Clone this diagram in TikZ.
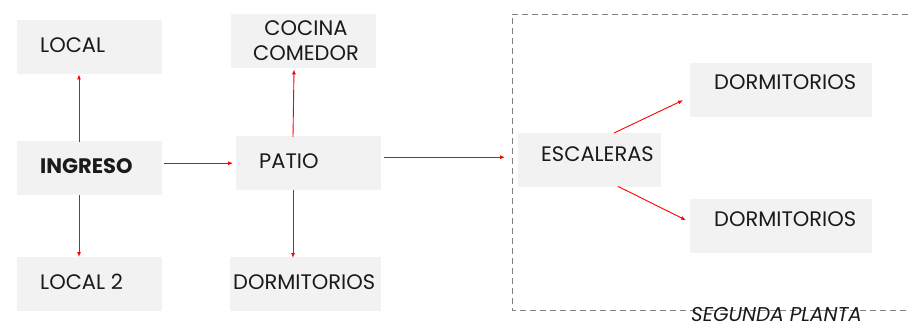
\documentclass[tikz,border=0pt]{standalone}
\usepackage{fontspec}
\setmainfont{Poppins}
\usetikzlibrary{arrows.meta,calc}
\definecolor{boxgray}{HTML}{F2F2F2}
\definecolor{txtcol}{HTML}{1A1A1A}
\definecolor{dashgray}{HTML}{808080}
\begin{document}
\begin{tikzpicture}[x=1pt,y=-1pt,
  box/.style={fill=boxgray, draw=none, minimum width=145pt, minimum height=54pt, inner sep=0pt, anchor=north west},
  txt/.style={anchor=west, inner sep=0pt, font=\fontsize{21}{25}\selectfont, text=txtcol},
  conn/.style={draw=red, line width=0.9pt, -{Latex[length=5pt,width=4pt]}}]
\useasboundingbox (0,0) rectangle (908,329);
% dashed frame (right side runs off the picture)
\coordinate (fA) at (908,14);
\coordinate (fB) at (512,14);
\coordinate (fC) at (512,310);
\coordinate (fD) at (908,310);
\draw[dashgray, line width=0.7pt, dash pattern=on 6pt off 4pt] (fA) -- (fB) -- (fC) -- (fD);
% boxes
\node[box] (local) at (17,20) {};
\node[box] (ingreso) at (17,141) {};
\node[box] (local2) at (17,257) {};
\node[box] (cocina) at (231,14) {};
\node[box] (patio) at (236,136) {};
\node[box, minimum width=151pt] (dorm1) at (230,257) {};
\node[box, minimum width=143pt] (esc) at (518,133) {};
\node[box, minimum width=182pt] (dorm2) at (690,63) {};
\node[box, minimum width=182pt] (dorm3) at (690,199) {};
% texts
\node[txt] (tlocal) at (40,45) {LOCAL};
\node[txt, font=\fontsize{21}{25}\selectfont\bfseries] (tingreso) at (40,166) {INGRESO};
\node[txt] (tlocal2) at (40,282) {LOCAL 2};
\node[txt, anchor=center, align=center] (tcocina) at (306,41) {COCINA\\COMEDOR};
\node[txt] (tpatio) at (259,161) {PATIO};
\node[txt] (tdorm1) at (233,282) {DORMITORIOS};
\node[txt] (tesc) at (541,154) {ESCALERAS};
\node[txt] (tdorm2) at (714,82) {DORMITORIOS};
\node[txt] (tdorm3) at (714,219) {DORMITORIOS};
\node[txt, anchor=base west, font=\fontsize{20}{24}\selectfont\itshape] (tseg) at (691,321) {SEGUNDA PLANTA};
% connectors
\draw[conn] ($(ingreso.north west)+(62,1)$) -- ($(local.south west)+(62,0)$);
\draw[conn] ($(ingreso.south west)+(62,0)$) -- ($(local2.north west)+(62,0)$);
\draw[conn] ($(ingreso.east)+(2,-5)$) -- ($(patio.west)+(-3,0)$);
\draw[conn] ($(patio.north west)+(57,1)$) -- ($(cocina.south west)+(63,1)$);
\draw[conn] ($(patio.south west)+(57,0)$) -- ($(dorm1.north west)+(63,1)$);
\draw[conn] ($(patio.east)+(3,-6)$) -- ($(esc.west)+(-13,-3)$);
\draw[conn] ($(esc.north west)+(96,0)$) -- ($(dorm2.west)+(-7,10)$);
\draw[conn] ($(esc.south west)+(100,-1)$) -- ($(dorm3.west)+(-4,-6)$);
\end{tikzpicture}
\end{document}
